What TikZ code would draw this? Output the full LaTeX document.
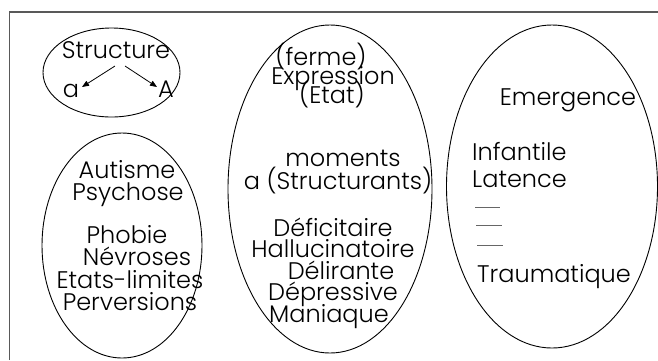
\documentclass[tikz,border=0pt]{standalone}
\usepackage{fontspec}
\IfFontExistsTF{Poppins Light}{\setmainfont{Poppins Light}}{\setmainfont{Poppins}}
\usetikzlibrary{arrows.meta}
\begin{document}
\begin{tikzpicture}[x=1pt,y=-1pt,
  lbl/.style={inner sep=0pt, anchor=base, font=\fontsize{24}{22}\selectfont},
  lbll/.style={lbl, anchor=base west},
  oval/.style={draw=black, line width=0.9pt},
  arr/.style={line width=0.8pt, -{Triangle[length=7pt,width=5.5pt]}},
  framebox/.style={draw=black!65, line width=1.3pt},
  gapline/.style={draw=black!60, line width=1pt}
]
\useasboundingbox (0,0) rectangle (658,360);
\draw[framebox] (9.5,360) -- (9.5,12) -- (658,12);
% ellipses
\draw[oval] (111.5,72.5) ellipse [x radius=68.5, y radius=44.5];
\draw[oval] (122,245.5) ellipse [x radius=80, y radius=112.5];
\draw[oval] (330,189) ellipse [x radius=102, y radius=164];
\draw[oval] (552,186.5) ellipse [x radius=105.5, y radius=161.5];
% ellipse 1
\node[lbl] (st) at (116,58) {Structure};
\node[lbl] (sa) at (71,97) {a};
\node[lbl] (sA) at (166,97) {A};
\coordinate (s1) at (115,66);
\coordinate (s2) at (125,66);
\coordinate (ta) at (82,87);
\coordinate (tA) at (157,87);
\draw[arr] (s1) -- (ta);
\draw[arr] (s2) -- (tA);
% ellipse 2
\node[lbl] (l1) at (127,178) {Autisme};
\node[lbl] (l2) at (128,200) {Psychose};
\node[lbl] (l3) at (127,243) {Phobie};
\node[lbl] (l4) at (137,265) {Névroses};
\node[lbl] (l5) at (130,288) {Etats-limites};
\node[lbl] (l6) at (130,310) {Perversions};
% middle
\node[lbl] (m1) at (321,65) {(ferme)};
\node[lbl] (m2) at (333,84) {Expression};
\node[lbl] (m3) at (332,103) {(Etat)};
\node[lbl] (m4) at (343,166) {moments};
\node[lbl] (m5) at (338,189) {a (Structurants)};
\node[lbl] (m6) at (333,236) {Déficitaire};
\node[lbl] (m7) at (333,257) {Hallucinatoire};
\node[lbl] (m8) at (341,279) {Délirante};
\node[lbl] (m9) at (333,300) {Dépressive};
\node[lbl] (m10) at (329,322) {Maniaque};
% right
\node[lbl] (r1) at (568,105) {Emergence};
\node[lbll] (r2) at (472,160) {Infantile};
\node[lbll] (r3) at (472,187) {Latence};
\coordinate (d1a) at (475,207); \coordinate (d1b) at (500,207);
\coordinate (d2a) at (476,225); \coordinate (d2b) at (502,225);
\coordinate (d3a) at (477,245); \coordinate (d3b) at (503,245);
\draw[gapline] (d1a) -- (d1b);
\draw[gapline] (d2a) -- (d2b);
\draw[gapline] (d3a) -- (d3b);
\node[lbll] (r4) at (477,282) {Traumatique};
\end{tikzpicture}
\end{document}
